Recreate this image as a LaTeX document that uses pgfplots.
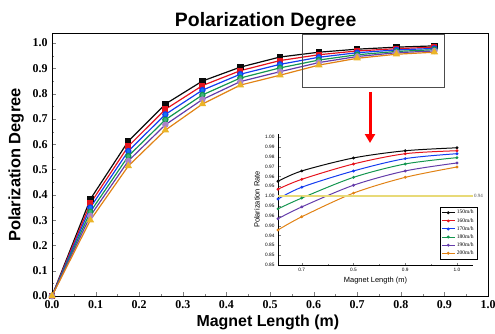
\documentclass[border=0pt]{standalone}
\usepackage{pgfplots}
\pgfplotsset{compat=1.18}
\usepackage{fontspec}
\setmainfont{Liberation Serif}
\setsansfont{Liberation Sans}
\usetikzlibrary{arrows.meta}
\definecolor{cblack}{RGB}{10,10,10}
\definecolor{cred}{RGB}{230,20,30}
\definecolor{cblue}{RGB}{20,60,240}
\definecolor{cgreen}{RGB}{20,150,80}
\definecolor{cpurple}{RGB}{100,60,170}
\definecolor{corange}{RGB}{225,130,20}
\definecolor{cstar}{RGB}{235,180,40}
\definecolor{cyel}{RGB}{232,218,120}
\definecolor{lpurple}{RGB}{170,130,200}
\definecolor{lgreen}{RGB}{60,180,120}
\begin{document}
\begin{tikzpicture}[x=1bp,y=1bp]
\useasboundingbox (0,0) rectangle (495,333);
\begin{axis}[
  at={(52bp,37bp)}, anchor=south west,
  scale only axis, width=436bp, height=262bp,
  xmin=0, xmax=1.0, ymin=0, ymax=1.036,
  xtick={0,0.1,0.2,0.3,0.4,0.5,0.6,0.7,0.8,0.9,1.0},
  ytick={0,0.1,0.2,0.3,0.4,0.5,0.6,0.7,0.8,0.9,1.0},
  minor tick num=1,
  tick align=inside, xtick pos=bottom, ytick pos=left,
  major tick length=4bp, minor tick length=2bp,
  /pgf/number format/assume math mode=true,
  /pgf/number format/fixed, /pgf/number format/fixed zerofill, /pgf/number format/precision=1,
  tick label style={font=\bfseries\fontsize{12}{13}\selectfont},
  xticklabel style={yshift=-1.5bp},
  yticklabel style={xshift=-1bp},
  axis line style={line width=1pt},
  title={Polarization Degree},
  title style={font=\sffamily\bfseries\fontsize{19.5}{21}\selectfont, at={(axis description cs:0.49,1)}, anchor=center, yshift=7bp},
  xlabel={Magnet Length (m)},
  ylabel={Polarization Degree},
  xlabel style={font=\sffamily\bfseries\fontsize{16}{18}\selectfont, at={(axis description cs:0.495,-0.10)}, anchor=center},
  ylabel style={font=\sffamily\bfseries\fontsize{16.5}{18}\selectfont, at={(axis description cs:-0.082,0.5)}, anchor=center},
  clip=false,
]
\addplot[cblack, line width=1.2pt, mark=square*, mark size=2.6pt] coordinates {
(0,0) (0.088,0.383) (0.175,0.612) (0.26,0.759) (0.345,0.850) (0.432,0.905) (0.523,0.945) (0.612,0.964) (0.70,0.976) (0.79,0.984) (0.877,0.989)};
\addplot[cred, line width=1.2pt, mark=square*, mark size=2.4pt] coordinates {
(0,0) (0.088,0.366) (0.175,0.592) (0.26,0.738) (0.345,0.832) (0.432,0.891) (0.523,0.931) (0.612,0.954) (0.70,0.969) (0.79,0.978) (0.877,0.984)};
\addplot[cblue, line width=1.2pt, mark=*, mark size=2.6pt, mark options={fill=cblue!70!cyan}] coordinates {
(0,0) (0.088,0.350) (0.175,0.573) (0.26,0.718) (0.345,0.814) (0.432,0.877) (0.523,0.916) (0.612,0.944) (0.70,0.962) (0.79,0.973) (0.877,0.979)};
\addplot[cgreen, line width=1.2pt, mark=*, mark size=2.6pt, mark options={fill=lgreen}] coordinates {
(0,0) (0.088,0.333) (0.175,0.553) (0.26,0.697) (0.345,0.795) (0.432,0.862) (0.523,0.902) (0.612,0.933) (0.70,0.954) (0.79,0.967) (0.877,0.974)};
\addplot[cpurple, line width=1.2pt, mark=*, mark size=2.6pt, mark options={fill=lpurple, draw=lpurple}] coordinates {
(0,0) (0.088,0.317) (0.175,0.534) (0.26,0.677) (0.345,0.777) (0.432,0.848) (0.523,0.887) (0.612,0.923) (0.70,0.947) (0.79,0.962) (0.877,0.969)};
\addplot[corange, line width=1.2pt, mark=triangle*, mark size=3.2pt, mark options={fill=cstar, draw=cstar}] coordinates {
(0,0) (0.088,0.300) (0.175,0.514) (0.26,0.656) (0.345,0.759) (0.432,0.834) (0.523,0.873) (0.612,0.913) (0.70,0.940) (0.79,0.956) (0.877,0.964)};
\draw[black!70, line width=0.8pt] (axis cs:0.575,0.826) rectangle (axis cs:0.901,1.036);
\end{axis}

\begin{axis}[
  at={(278bp,68bp)}, anchor=south west,
  scale only axis, width=195bp, height=131bp,
  xmin=0.654, xmax=1.031, ymin=0.87, ymax=1.003,
  axis x line*=bottom, axis y line*=left,
  xtick={0.7,0.8,0.9,1.0}, xticklabels={0.7,0.5,0.9,1.0},
  minor x tick num=1,
  ytick={0.87,0.88,0.89,0.90,0.91,0.92,0.93,0.94,0.95,0.96,0.97,0.98,0.99,1.00},
  yticklabels={0.85,0.85,0.85,0.94,0.90,0.96,0.95,1.00,0.95,0.96,0.97,0.98,0.99,1.00},
  tick align=inside, major tick length=2.5bp, minor tick length=1.5bp,
  tick label style={font=\sffamily\fontsize{4.8}{5}\selectfont},
  axis line style={line width=0.6pt},
  xlabel={Magnet Length (m)}, ylabel={Polarization Rate},
  xlabel style={font=\sffamily\fontsize{7.5}{8}\selectfont, at={(axis description cs:0.5,-0.115)}, anchor=center},
  ylabel style={font=\sffamily\fontsize{7.5}{8}\selectfont, at={(axis description cs:-0.108,0.5)}, anchor=center},
  legend style={at={(1.02,0.443)}, anchor=north east, font=\fontsize{5.5}{6}\selectfont, draw=black, line width=0.4pt, inner sep=1pt, row sep=-1.2pt},
  legend cell align=left,
  legend image code/.code={\draw[mark repeat=2,mark phase=2] plot coordinates {(0cm,0cm) (0.22cm,0cm) (0.44cm,0cm)};},
  clip=false,
  every axis plot/.append style={line width=1pt, mark=*, mark size=0.9pt, smooth},
]
\addplot[cblack] coordinates {(0.654,0.955) (0.7,0.9655) (0.8,0.9787) (0.9,0.986) (1.0,0.989)};
\addplot[cred] coordinates {(0.654,0.947) (0.7,0.957) (0.8,0.9726) (0.9,0.983) (1.0,0.986)};
\addplot[cblue] coordinates {(0.654,0.937) (0.7,0.949) (0.8,0.9655) (0.9,0.978) (1.0,0.983)};
\addplot[cgreen] coordinates {(0.654,0.927) (0.7,0.938) (0.8,0.959) (0.9,0.9726) (1.0,0.979)};
\addplot[cpurple] coordinates {(0.654,0.917) (0.7,0.929) (0.8,0.951) (0.9,0.9655) (1.0,0.9736)};
\addplot[corange] coordinates {(0.654,0.9056) (0.7,0.919) (0.8,0.943) (0.9,0.959) (1.0,0.9695)};
\legend{150m/h,160m/h,170m/h,180m/h,190m/h,200m/h}
\addplot[cyel, line width=1.4pt, mark=none, forget plot] coordinates {(0.654,0.94) (1.031,0.94)};
\node[anchor=west, font=\fontsize{5}{5}\selectfont, text=black!70, inner sep=1pt] at (axis cs:1.031,0.94) {0.94};
\end{axis}
\draw[-{Triangle[width=10bp,length=9bp]}, red, line width=3bp] (370bp,241bp) -- (370bp,190bp);
\end{tikzpicture}
\end{document}
